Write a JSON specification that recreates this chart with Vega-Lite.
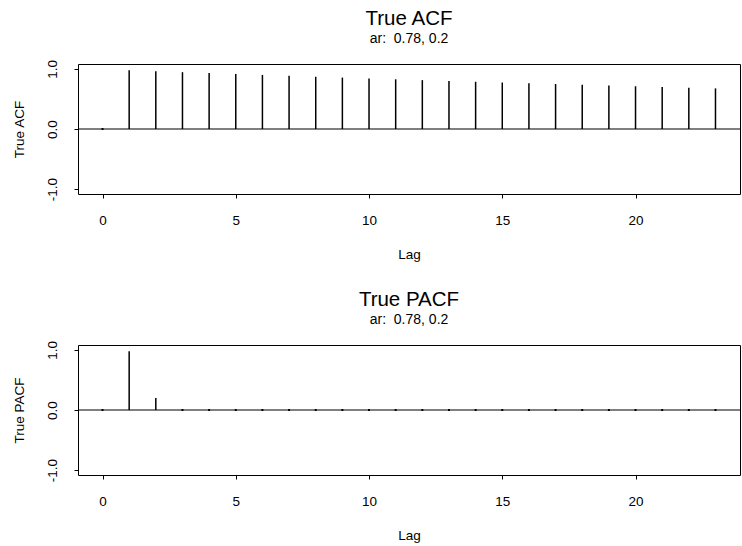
{
  "$schema": "https://vega.github.io/schema/vega-lite/v6.json",
  "padding": {"left": 11, "top": 8, "right": 3, "bottom": 0},
  "background": "white",
  "spacing": 27,
  "config": {
    "font": "Liberation Sans",
    "view": {"stroke": "black", "strokeWidth": 1},
    "axis": {
      "grid": false,
      "domain": false,
      "tickColor": "black",
      "tickSize": 4,
      "labelColor": "black",
      "titleColor": "black",
      "labelFontSize": 13.5,
      "titleFontSize": 13.5,
      "titleFontWeight": "normal",
      "labelFont": "Liberation Sans",
      "titleFont": "Liberation Sans"
    },
    "axisX": {"labelPadding": 15, "titlePadding": 21},
    "axisY": {"labelPadding": 15, "titlePadding": 19, "labelAngle": -90, "labelAlign": "center", "labelBaseline": "bottom"}
  },
  "datasets": {
    "acf": [
      {"lag": 0, "value": 0},
      {"lag": 1, "value": 0.975},
      {"lag": 2, "value": 0.961},
      {"lag": 3, "value": 0.944},
      {"lag": 4, "value": 0.929},
      {"lag": 5, "value": 0.913},
      {"lag": 6, "value": 0.898},
      {"lag": 7, "value": 0.883},
      {"lag": 8, "value": 0.868},
      {"lag": 9, "value": 0.854},
      {"lag": 10, "value": 0.840},
      {"lag": 11, "value": 0.826},
      {"lag": 12, "value": 0.812},
      {"lag": 13, "value": 0.799},
      {"lag": 14, "value": 0.785},
      {"lag": 15, "value": 0.772},
      {"lag": 16, "value": 0.759},
      {"lag": 17, "value": 0.747},
      {"lag": 18, "value": 0.734},
      {"lag": 19, "value": 0.722},
      {"lag": 20, "value": 0.710},
      {"lag": 21, "value": 0.698},
      {"lag": 22, "value": 0.687},
      {"lag": 23, "value": 0.675}
    ],
    "pacf": [
      {"lag": 0, "value": 0},
      {"lag": 1, "value": 0.975},
      {"lag": 2, "value": 0.2},
      {"lag": 3, "value": 0},
      {"lag": 4, "value": 0},
      {"lag": 5, "value": 0},
      {"lag": 6, "value": 0},
      {"lag": 7, "value": 0},
      {"lag": 8, "value": 0},
      {"lag": 9, "value": 0},
      {"lag": 10, "value": 0},
      {"lag": 11, "value": 0},
      {"lag": 12, "value": 0},
      {"lag": 13, "value": 0},
      {"lag": 14, "value": 0},
      {"lag": 15, "value": 0},
      {"lag": 16, "value": 0},
      {"lag": 17, "value": 0},
      {"lag": 18, "value": 0},
      {"lag": 19, "value": 0},
      {"lag": 20, "value": 0},
      {"lag": 21, "value": 0},
      {"lag": 22, "value": 0},
      {"lag": 23, "value": 0}
    ],
    "zero": [{"h": 0}]
  },
  "vconcat": [
    {
      "width": 662,
      "height": 130,
      "title": {"text": "True ACF", "subtitle": "ar:\u00a0 0.78, 0.2",
                "font": "Liberation Sans", "subtitleFont": "Liberation Sans",
                "fontSize": 20.5, "fontWeight": "normal", "subtitleFontSize": 14, "subtitleFontWeight": "normal",
                "color": "black", "subtitleColor": "black", "anchor": "middle", "offset": 13, "subtitlePadding": 3},
      "layer": [
        {
          "data": {"name": "zero"},
          "mark": {"type": "rule", "color": "black", "strokeWidth": 1},
          "encoding": {"y": {"field": "h", "type": "quantitative"}}
        },
        {
          "data": {"name": "acf"},
          "mark": {"type": "rule", "color": "black", "strokeWidth": 1.5},
          "encoding": {
            "x": {"field": "lag", "type": "quantitative", "scale": {"domain": [-0.92, 23.92], "nice": false, "zero": false},
                  "axis": {"title": "Lag", "values": [0, 5, 10, 15, 20]}},
            "y": {"field": "value", "type": "quantitative", "scale": {"domain": [-1.08, 1.08], "nice": false},
                  "axis": {"title": "True ACF", "values": [-1, -0.5, 0, 0.5, 1],
                           "labelExpr": "datum.value == 1 ? '1.0' : datum.value == 0 ? '0.0' : datum.value == -1 ? '-1.0' : ''"}},
            "y2": {"datum": 0}
          }
        },
        {
          "data": {"name": "acf"},
          "transform": [{"filter": "datum.value == 0"}],
          "mark": {"type": "point", "shape": "square", "size": 4, "filled": true, "color": "black", "opacity": 1},
          "encoding": {
            "x": {"field": "lag", "type": "quantitative"},
            "y": {"field": "value", "type": "quantitative"}
          }
        }
      ]
    },
    {
      "width": 662,
      "height": 130,
      "title": {"text": "True PACF", "subtitle": "ar:\u00a0 0.78, 0.2",
                "font": "Liberation Sans", "subtitleFont": "Liberation Sans",
                "fontSize": 20.5, "fontWeight": "normal", "subtitleFontSize": 14, "subtitleFontWeight": "normal",
                "color": "black", "subtitleColor": "black", "anchor": "middle", "offset": 13, "subtitlePadding": 3},
      "layer": [
        {
          "data": {"name": "zero"},
          "mark": {"type": "rule", "color": "black", "strokeWidth": 1},
          "encoding": {"y": {"field": "h", "type": "quantitative"}}
        },
        {
          "data": {"name": "pacf"},
          "mark": {"type": "rule", "color": "black", "strokeWidth": 1.5},
          "encoding": {
            "x": {"field": "lag", "type": "quantitative", "scale": {"domain": [-0.92, 23.92], "nice": false, "zero": false},
                  "axis": {"title": "Lag", "values": [0, 5, 10, 15, 20]}},
            "y": {"field": "value", "type": "quantitative", "scale": {"domain": [-1.08, 1.08], "nice": false},
                  "axis": {"title": "True PACF", "values": [-1, -0.5, 0, 0.5, 1],
                           "labelExpr": "datum.value == 1 ? '1.0' : datum.value == 0 ? '0.0' : datum.value == -1 ? '-1.0' : ''"}},
            "y2": {"datum": 0}
          }
        },
        {
          "data": {"name": "pacf"},
          "transform": [{"filter": "datum.value == 0"}],
          "mark": {"type": "point", "shape": "square", "size": 4, "filled": true, "color": "black", "opacity": 1},
          "encoding": {
            "x": {"field": "lag", "type": "quantitative"},
            "y": {"field": "value", "type": "quantitative"}
          }
        }
      ]
    }
  ]
}
